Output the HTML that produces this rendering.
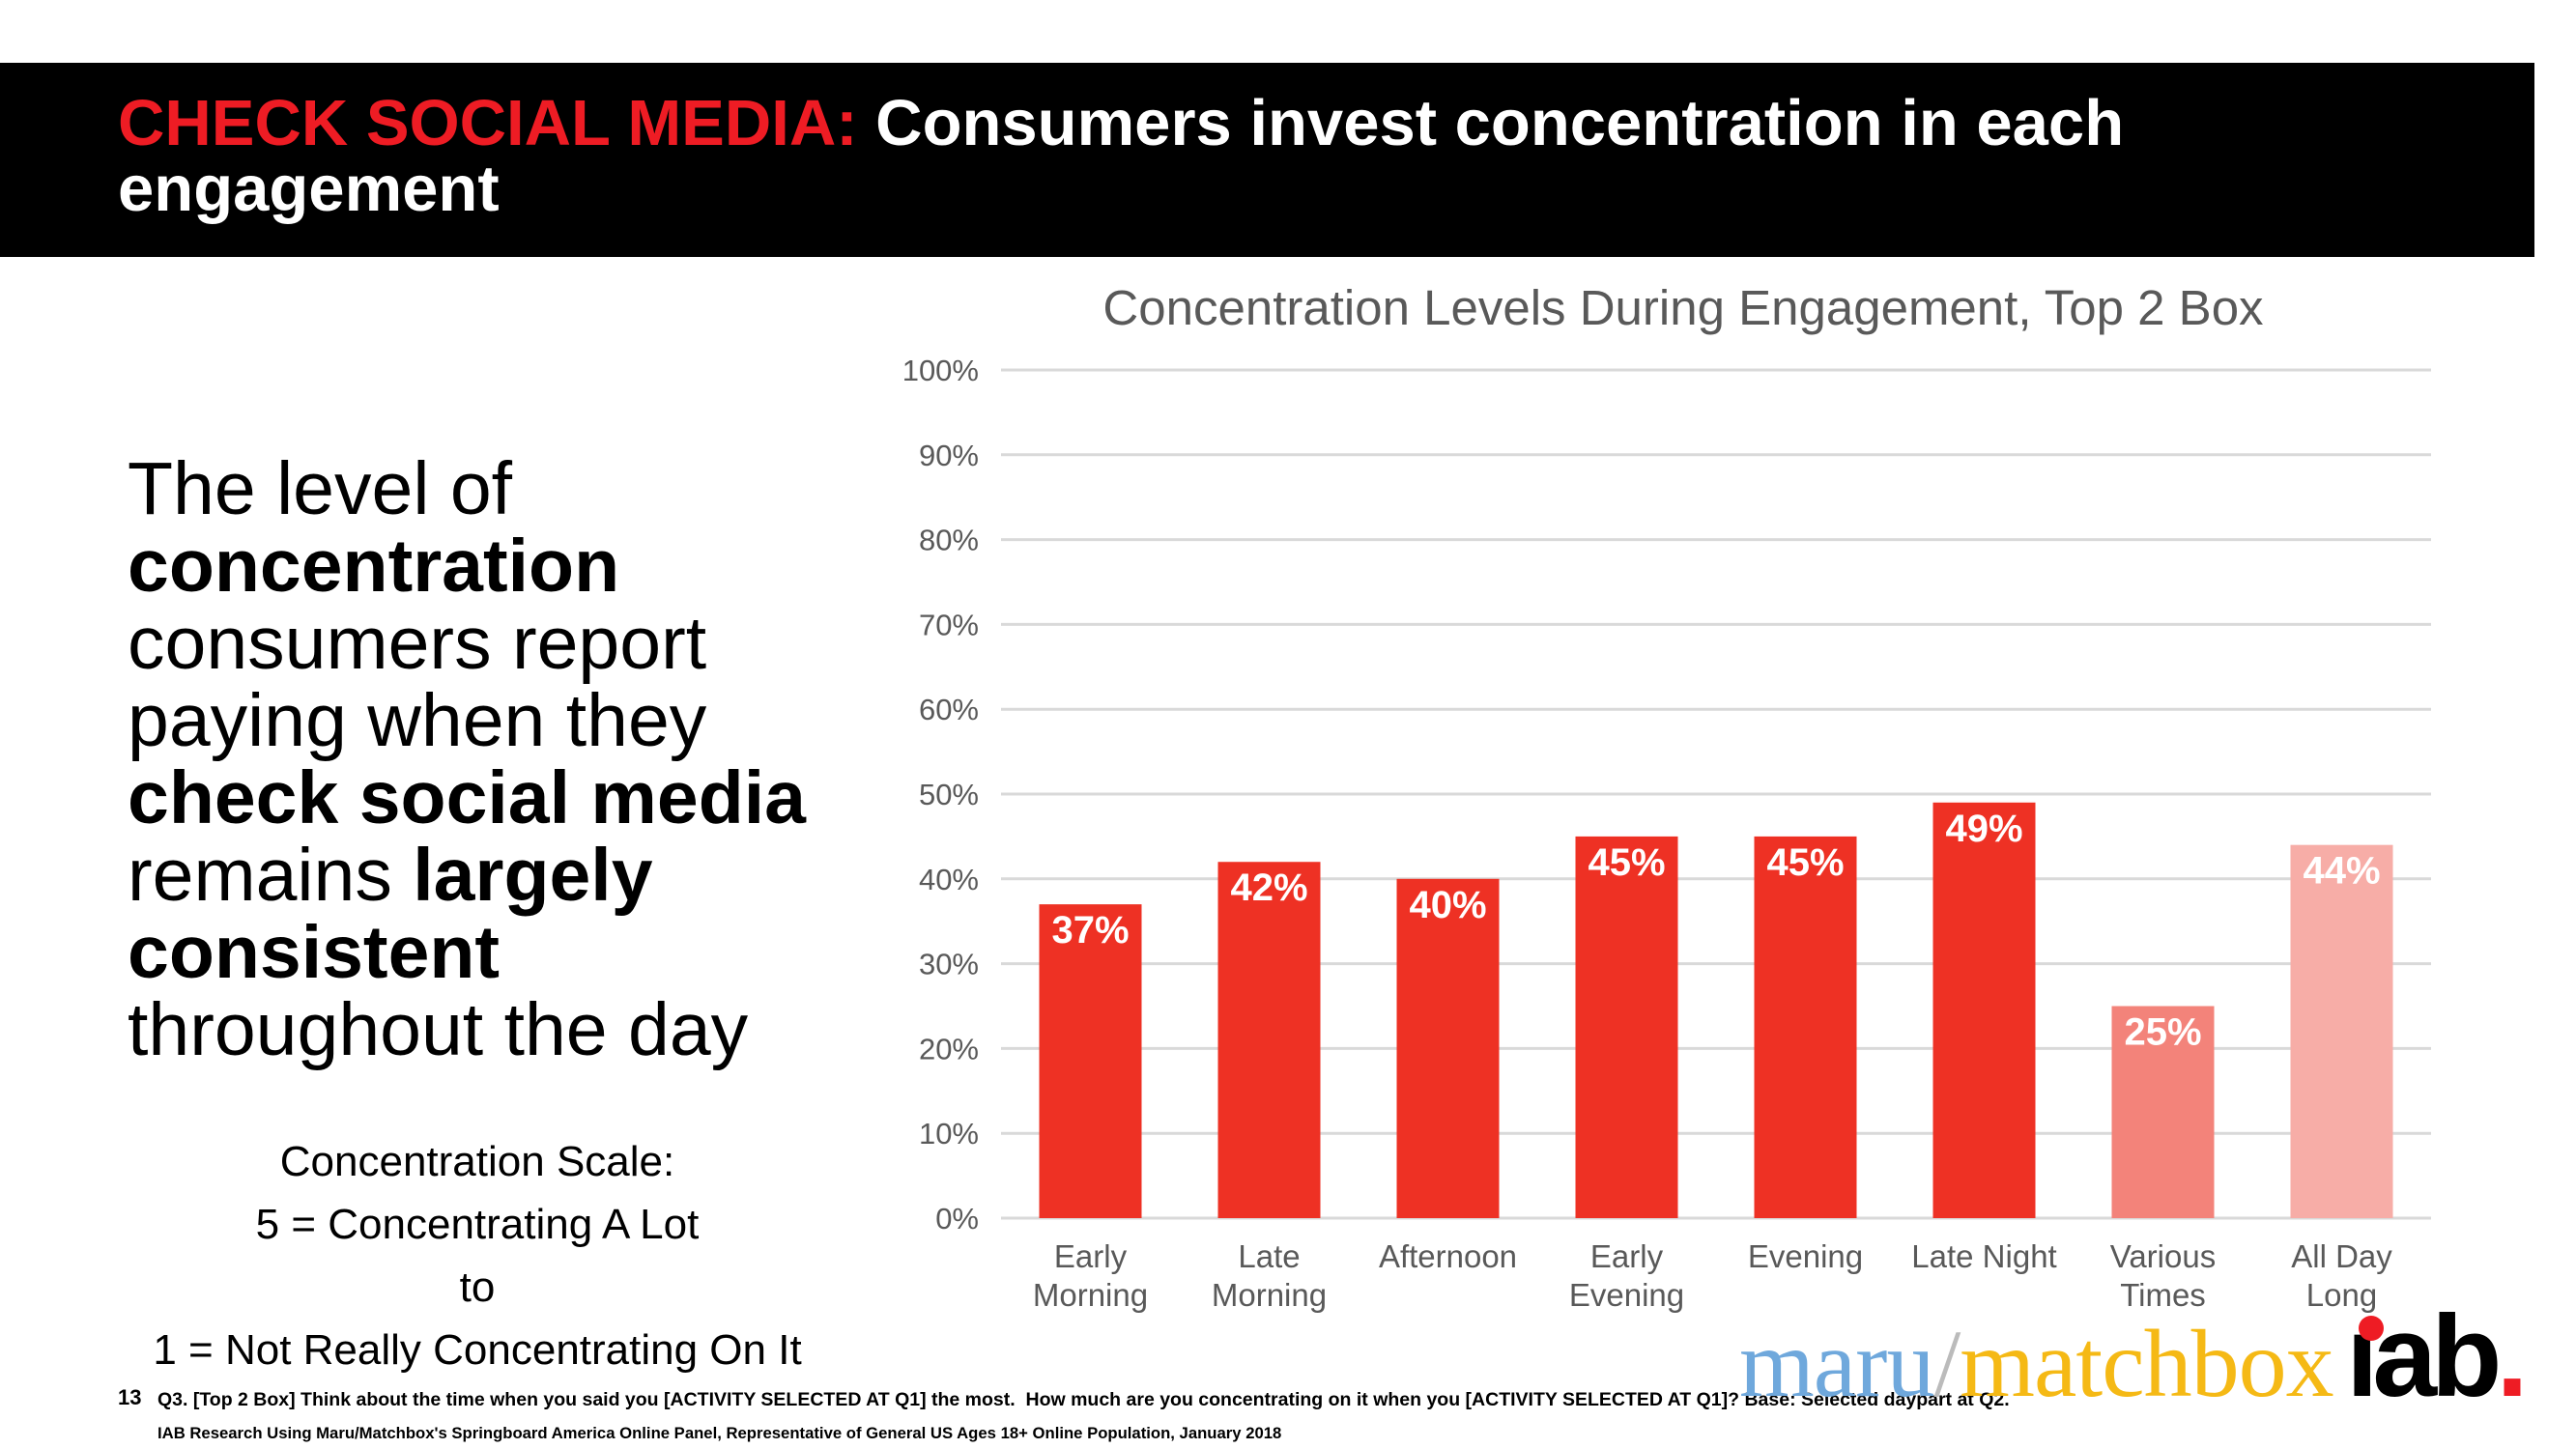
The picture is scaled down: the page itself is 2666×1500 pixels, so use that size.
<!DOCTYPE html>
<html><head><meta charset="utf-8"><style>
body{margin:0;width:2666px;height:1500px;background:#fff;position:relative;overflow:hidden;font-family:"Liberation Sans",sans-serif}
.abs{position:absolute;white-space:nowrap}
</style></head><body>
<div class="abs" style="left:0;top:65px;width:2623px;height:201px;background:#000"></div>
<div class="abs" style="left:122px;top:94px;font-size:67px;font-weight:bold;color:#fff;line-height:68px"><span style="color:#EE1C24">CHECK SOCIAL MEDIA:</span> Consumers invest concentration in each<br>engagement</div>
<div class="abs" style="left:132px;top:466px;font-size:77px;line-height:80px;color:#000">The level of<br><b>concentration</b><br>consumers report<br>paying when they<br><b>check social media</b><br>remains <b>largely</b><br><b>consistent</b><br>throughout the day</div>
<div class="abs" style="left:94px;top:1170px;width:800px;text-align:center;font-size:44px;line-height:65px;color:#000">Concentration Scale:<br>5 = Concentrating A Lot<br>to<br>1 = Not Really Concentrating On It</div>
<div class="abs" style="left:122px;top:1434px;font-size:22px;font-weight:bold">13</div>
<div class="abs" style="left:163px;top:1438px;font-size:19.5px;font-weight:bold">Q3. [Top 2 Box] Think about the time when you said you [ACTIVITY SELECTED AT Q1] the most.&nbsp; How much are you concentrating on it when you [ACTIVITY SELECTED AT Q1]? Base: Selected daypart at Q2.</div>
<div class="abs" style="left:163px;top:1474px;font-size:16.7px;font-weight:bold">IAB Research Using Maru/Matchbox's Springboard America Online Panel, Representative of General US Ages 18+ Online Population, January 2018</div>
<div class="abs" style="left:1800px;top:1362px;font-family:'Liberation Serif',serif;font-size:100px;line-height:100px;letter-spacing:-1px"><span style="color:#6FA8DC">maru</span><span style="color:#bbb">/</span><span style="color:#F5B915">matchbox</span></div>
<div class="abs" style="left:2428px;top:1344px;font-size:120px;font-weight:bold;line-height:120px;letter-spacing:-6px;color:#000">ıab<span style="color:#EE1C24">.</span></div>
<div class="abs" style="left:2441px;top:1362px;width:26px;height:26px;border-radius:50%;background:#EE1C24"></div>
<svg id="chart" class="abs" style="left:0;top:0" width="2666" height="1500"></svg>
<script>
const categories=[["Early","Morning"],["Late","Morning"],["Afternoon"],["Early","Evening"],["Evening"],["Late Night"],["Various","Times"],["All Day","Long"]];
const values=[37,42,40,45,45,49,25,44];
const labels=["37%","42%","40%","45%","45%","49%","25%","44%"];
const colors=["#EE3124","#EE3124","#EE3124","#EE3124","#EE3124","#EE3124","#F3837A","#F7ADA7"];
const ticks=[0,10,20,30,40,50,60,70,80,90,100];
const svg=document.getElementById('chart');const NS='http://www.w3.org/2000/svg';
const x0=1036,x1=2516,y0=1261,y1=383;
const y=v=>y0-(y0-y1)*v/100;
const step=(x1-x0)/categories.length;const bw=106;
const xc=i=>x0+step*(i+0.5);
function mk(t,a){const e=document.createElementNS(NS,t);for(const k in a)e.setAttribute(k,a[k]);svg.appendChild(e);return e;}
const tt=mk('text',{x:1742,y:336,'text-anchor':'middle','font-size':51,fill:'#595959','font-family':'Liberation Sans'});tt.textContent='Concentration Levels During Engagement, Top 2 Box';


ticks.forEach(t=>{const l=mk('line',{x1:x0,x2:x1,y1:y(t),y2:y(t),stroke:'#D9D9D9','stroke-width':3});


const tx=mk('text',{x:1013,y:y(t)+11,'text-anchor':'end','font-size':31,fill:'#595959','font-family':'Liberation Sans'});tx.textContent=t+'%';

});
values.forEach((v,i)=>{const r=mk('rect',{x:xc(i)-bw/2,y:y(v),width:bw,height:y0-y(v),fill:colors[i]});


const t=mk('text',{x:xc(i),y:y(v)+40,'text-anchor':'middle','font-size':40,'font-weight':'bold',fill:'#fff','font-family':'Liberation Sans'});t.textContent=labels[i];


categories[i].forEach((s,j)=>{const c=mk('text',{x:xc(i),y:1322+j*40,'text-anchor':'middle','font-size':33,fill:'#595959','font-family':'Liberation Sans'});c.setAttribute('y',1312+j*40);c.textContent=s;

});});
</script>
</body></html>
